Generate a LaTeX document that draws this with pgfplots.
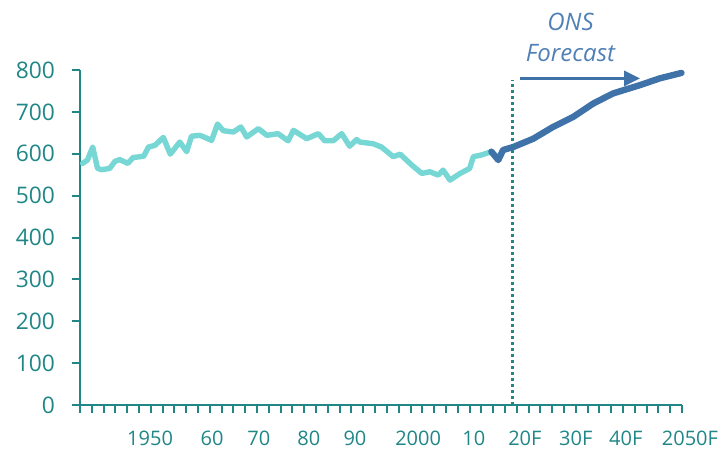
\documentclass[border=0pt]{standalone}
\usepackage{pgfplots}
\pgfplotsset{compat=1.18}
\usepackage{fontspec}
\setmainfont{Open Sans}
\usetikzlibrary{arrows.meta}
\definecolor{axteal}{RGB}{32,134,134}
\definecolor{lightln}{RGB}{118,215,212}
\definecolor{darkln}{RGB}{62,114,168}
\definecolor{annot}{RGB}{80,128,182}
\begin{document}
\begin{tikzpicture}
\useasboundingbox (-40pt,-22.5pt) rectangle (320pt,202.5pt);
\begin{axis}[
  at={(0pt,0pt)}, anchor=south west,
  scale only axis, width=301pt, height=167.5pt,
  xmin=1937, xmax=2050.4, ymin=0, ymax=800,
  axis x line*=bottom, axis y line*=left,
  axis line style={axteal, line width=0.9pt, -},
  clip=false,
  ytick={0,100,...,800},
  xtick={1937,1939.2235,...,2051},
  xticklabels={},
  tick align=outside,
  major tick length=4pt,
  tick style={axteal, line width=1pt},
  y tick label style={font=\fontsize{11.4}{13}\selectfont, text=axteal, xshift=-5pt},
  /pgf/number format/assume math mode=true,
  /pgf/number format/1000 sep={},
  extra x ticks={1950.2,1961.9,1970.7,1980.1,1988.8,2000.7,2011.2,2020.8,2030.4,2039.8},
  extra x tick labels={1950,60,70,80,90,2000,10,20F,30F,40F},
  extra x tick style={major tick length=0pt, tick label style={font=\fontsize{10}{12}\selectfont, text=axteal, anchor=base, yshift=-20.5pt}},
]
\addplot[lightln, line width=2.7pt, line join=round, line cap=round] coordinates {
(1937.5,577)(1938.4,585)(1939.4,616)(1940.3,565)(1941.1,562)(1942.6,565)(1943.6,582)(1944.5,586)(1946,577)(1947,591)(1949,594)(1949.9,616)(1951.1,620)(1952.7,639)(1954,599)(1955.8,628)(1957.1,605)(1958,642)(1959.6,644)(1961.8,632)(1962.9,671)(1964,655)(1965.9,652)(1967.3,664)(1968.4,640)(1970.6,660)(1972.2,644)(1974.3,648)(1976.2,631)(1977.2,656)(1979.7,636)(1981.9,648)(1983.1,631)(1984.7,631)(1986.3,648)(1987.8,618)(1989.1,634)(1989.7,628)(1992.2,624)(1993.8,616)(1996,593)(1997.3,599)(1999.5,573)(2001.4,553)(2002.9,557)(2004.5,549)(2005.4,561)(2006.7,537)(2008.6,553)(2010.4,565)(2011.1,593)(2012.6,597)(2014.5,605)
};
\addplot[darkln, line width=3.2pt, line join=round, line cap=round] coordinates {
(2014.5,605)(2015.8,585)(2016.7,609)(2018.6,616)(2022.4,636)(2026.1,664)(2029.9,688)(2033.7,720)(2037.4,744)(2042.5,764)(2046.2,780)(2050.3,793)
};
\draw[axteal, line width=1.6pt, dash pattern=on 1.4pt off 1.6pt] (axis cs:2018.4,0) -- (axis cs:2018.4,776);
\draw[darkln, line width=1.6pt, -{Triangle[length=8pt,width=7.5pt]}] (axis cs:2019.9,780) -- (axis cs:2042.5,780);
\node[annot, font=\fontsize{12}{14}\selectfont\itshape, align=center] at (axis cs:2029.4,877) {ONS\\[1.5pt]Forecast};
\node[text=axteal, font=\fontsize{10}{12}\selectfont, anchor=base, yshift=-20.5pt] at (axis cs:2051.9,0) {2050F};
\end{axis}
\end{tikzpicture}
\end{document}
